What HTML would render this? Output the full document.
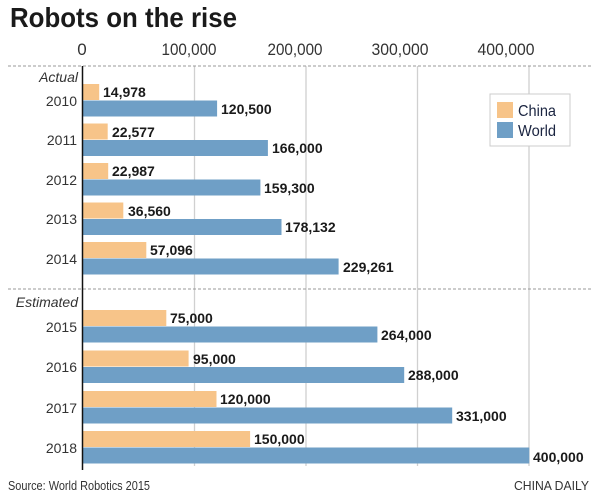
<!DOCTYPE html>
<html><head><meta charset="utf-8"><style>
html,body{margin:0;padding:0;background:#fff;}
svg{display:block;}
text{font-family:"Liberation Sans",sans-serif;}
</style></head><body>
<svg width="600" height="494" viewBox="0 0 600 494" xmlns="http://www.w3.org/2000/svg">
<text x="10" y="27" font-size="28" font-weight="bold" fill="#1a1a1a" textLength="227" lengthAdjust="spacingAndGlyphs">Robots on the rise</text>
<g font-size="17" fill="#333" text-anchor="middle">
<text x="82" y="55">0</text>
<text x="189" y="55" textLength="55" lengthAdjust="spacingAndGlyphs">100,000</text>
<text x="295" y="55" textLength="55" lengthAdjust="spacingAndGlyphs">200,000</text>
<text x="400" y="55" textLength="57" lengthAdjust="spacingAndGlyphs">300,000</text>
<text x="506" y="55" textLength="57" lengthAdjust="spacingAndGlyphs">400,000</text>
</g>
<g stroke="#d0d0d0" stroke-width="1.3">
<line x1="194.5" y1="66" x2="194.5" y2="466"/>
<line x1="306" y1="66" x2="306" y2="466"/>
<line x1="417.5" y1="66" x2="417.5" y2="466"/>
<line x1="529" y1="66" x2="529" y2="466"/>
</g>
<g stroke="#999" stroke-width="1" stroke-dasharray="3,2">
<line x1="8" y1="66" x2="592" y2="66"/>
<line x1="8" y1="289" x2="592" y2="289"/>
</g>
<rect x="490" y="94" width="80" height="52" fill="#fff" stroke="#ccc"/>
<rect x="497" y="102" width="16" height="16" fill="#f7c489"/>
<rect x="497" y="122" width="16" height="16" fill="#6f9fc6"/>
<g font-size="16" fill="#1a2440">
<text x="518" y="116" textLength="38" lengthAdjust="spacingAndGlyphs">China</text>
<text x="518" y="136" textLength="38" lengthAdjust="spacingAndGlyphs">World</text>
</g>
<g font-size="14" font-style="italic" fill="#333" text-anchor="end">
<text x="78" y="82">Actual</text>
<text x="78" y="307">Estimated</text>
</g>
<g id="bars">
<!-- scale 1.117 px per 1000 from x=82.5 -->
<rect x="82.5" y="84" width="16.7" height="16" fill="#f7c489"/><rect x="82.5" y="100.5" width="134.6" height="16" fill="#6f9fc6"/>
<rect x="82.5" y="123.5" width="25.2" height="16" fill="#f7c489"/><rect x="82.5" y="140" width="185.4" height="16" fill="#6f9fc6"/>
<rect x="82.5" y="163" width="25.7" height="16" fill="#f7c489"/><rect x="82.5" y="179.5" width="177.9" height="16" fill="#6f9fc6"/>
<rect x="82.5" y="202.5" width="40.8" height="16" fill="#f7c489"/><rect x="82.5" y="219" width="199" height="16" fill="#6f9fc6"/>
<rect x="82.5" y="242" width="63.8" height="16" fill="#f7c489"/><rect x="82.5" y="258.5" width="256.1" height="16" fill="#6f9fc6"/>
<rect x="82.5" y="310" width="83.8" height="16" fill="#f7c489"/><rect x="82.5" y="326.5" width="294.9" height="16" fill="#6f9fc6"/>
<rect x="82.5" y="350.5" width="106.1" height="16" fill="#f7c489"/><rect x="82.5" y="367" width="321.7" height="16" fill="#6f9fc6"/>
<rect x="82.5" y="391" width="134" height="16" fill="#f7c489"/><rect x="82.5" y="407.5" width="369.7" height="16" fill="#6f9fc6"/>
<rect x="82.5" y="431" width="167.6" height="16" fill="#f7c489"/><rect x="82.5" y="447.5" width="446.8" height="16" fill="#6f9fc6"/>
</g>
<line x1="82.5" y1="66" x2="82.5" y2="470" stroke="#111" stroke-width="1.5"/>
<g font-size="14" fill="#333" text-anchor="end">
<text x="77" y="106">2010</text>
<text x="77" y="145">2011</text>
<text x="77" y="185">2012</text>
<text x="77" y="224">2013</text>
<text x="77" y="264">2014</text>
<text x="77" y="332">2015</text>
<text x="77" y="372">2016</text>
<text x="77" y="413">2017</text>
<text x="77" y="453">2018</text>
</g>
<g font-size="14" font-weight="bold" fill="#1a1a1a">
<text x="103" y="97">14,978</text><text x="221" y="114">120,500</text>
<text x="112" y="137">22,577</text><text x="272" y="153">166,000</text>
<text x="112" y="176">22,987</text><text x="264" y="193">159,300</text>
<text x="128" y="216">36,560</text><text x="285" y="232">178,132</text>
<text x="150" y="255">57,096</text><text x="343" y="272">229,261</text>
<text x="170" y="323">75,000</text><text x="381" y="340">264,000</text>
<text x="193" y="364">95,000</text><text x="408" y="380">288,000</text>
<text x="220" y="404">120,000</text><text x="456" y="421">331,000</text>
<text x="254" y="444">150,000</text><text x="533" y="462">400,000</text>
</g>
<text x="8" y="490" font-size="13" fill="#333" textLength="142" lengthAdjust="spacingAndGlyphs">Source: World Robotics 2015</text>
<text x="589" y="490" font-size="13" fill="#333" text-anchor="end" textLength="75" lengthAdjust="spacingAndGlyphs">CHINA DAILY</text>
</svg>
</body></html>
